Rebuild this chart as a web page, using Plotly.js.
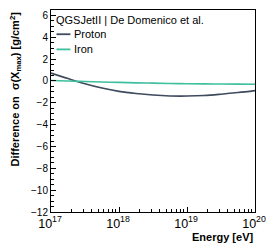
<!DOCTYPE html>
<html><head><meta charset="utf-8">
<script src="https://cdn.plot.ly/plotly-3.0.1.min.js"></script>
<style>html,body{margin:0;padding:0;background:#fff}#plot{width:266px;height:250px}</style>
</head><body><div id="plot"></div>
<script>
const energy = [1e17, 1.78e17, 3.16e17, 5.62e17, 1e18, 1.78e18, 3.16e18, 5.62e18, 1e19, 1.78e19, 3.16e19, 5.62e19, 1e20];
const proton = [0.72, 0.22, -0.25, -0.65, -0.95, -1.15, -1.29, -1.37, -1.38, -1.33, -1.21, -1.06, -0.88];
const iron   = [0.05, 0.0, -0.05, -0.09, -0.13, -0.17, -0.2, -0.23, -0.25, -0.27, -0.28, -0.29, -0.3];
const legendTitle = 'QGSJetII | De Domenico et al.';
const seriesNames = ['Proton', 'Iron'];
const seriesColors = ['#3e4a5d', '#3fbf9e'];
const xTitle = 'Energy [eV]';
const yTitle = 'Difference on  σ(X<sub>max</sub>) [g/cm<sup>2</sup>]';

const font = 'Liberation Sans, Arial, sans-serif';
const traces = [
  {x: energy, y: proton, name: seriesNames[0], mode: 'lines', line: {color: seriesColors[0], width: 1.6, shape: 'spline'}},
  {x: energy, y: iron, name: seriesNames[1], mode: 'lines', line: {color: seriesColors[1], width: 1.6, shape: 'spline'}}
];
const axisCommon = {
  showgrid: false, zeroline: false, showline: true, linecolor: '#000', linewidth: 1, mirror: true,
  ticks: 'inside', ticklen: 5, tickcolor: '#000', tickfont: {family: font, size: 10, color: '#000'},
  ticklabeloverflow: 'allow'
};
// legend drawn manually (compact layout like the reference)
const legY = [0.880, 0.805];
const legendShapes = seriesNames.map((n, i) => ({
  type: 'line', xref: 'paper', yref: 'paper', x0: 0.027, x1: 0.095, y0: legY[i], y1: legY[i],
  line: {color: seriesColors[i], width: 1.8}
}));
const legendAnn = seriesNames.map((n, i) => ({
  text: n, xref: 'paper', yref: 'paper', x: 0.105, y: legY[i], xanchor: 'left', yanchor: 'middle',
  showarrow: false, font: {family: font, size: 11, color: '#000'}
}));
const layout = {
  width: 266, height: 250,
  margin: {l: 51, r: 11, t: 10, b: 38},
  paper_bgcolor: '#fff', plot_bgcolor: '#fff',
  font: {family: font, size: 10, color: '#000'},
  showlegend: false,
  xaxis: Object.assign({}, axisCommon, {
    type: 'log', range: [17, 20], dtick: 1, exponentformat: 'power', ticklabelshift: -1,
    minor: {ticks: 'inside', ticklen: 3, tickcolor: '#000'}
  }),
  yaxis: Object.assign({}, axisCommon, {
    range: [-12, 6.5], dtick: 2, tick0: 0,
    minor: {ticks: 'inside', ticklen: 3, dtick: 0.5, tickcolor: '#000'}
  }),
  shapes: legendShapes,
  annotations: [
    {text: legendTitle, xref: 'paper', yref: 'paper', x: 0.015, y: 0.9505, xanchor: 'left', yanchor: 'middle',
     showarrow: false, font: {family: font, size: 11, color: '#000'}},
    ...legendAnn,
    {text: '<b>' + xTitle + '</b>', xref: 'paper', yref: 'paper', x: 1, y: 0, xanchor: 'right', yanchor: 'top',
     yshift: -17, showarrow: false, font: {family: font, size: 11}},
    {text: '<b>' + yTitle + '</b>', xref: 'paper', yref: 'paper', x: 0, y: 1, xanchor: 'center', yanchor: 'top',
     xshift: -36, yshift: 0, textangle: -90, showarrow: false, font: {family: font, size: 11}}
  ]
};
Plotly.newPlot('plot', traces, layout, {staticPlot: true, displayModeBar: false});
</script></body></html>
